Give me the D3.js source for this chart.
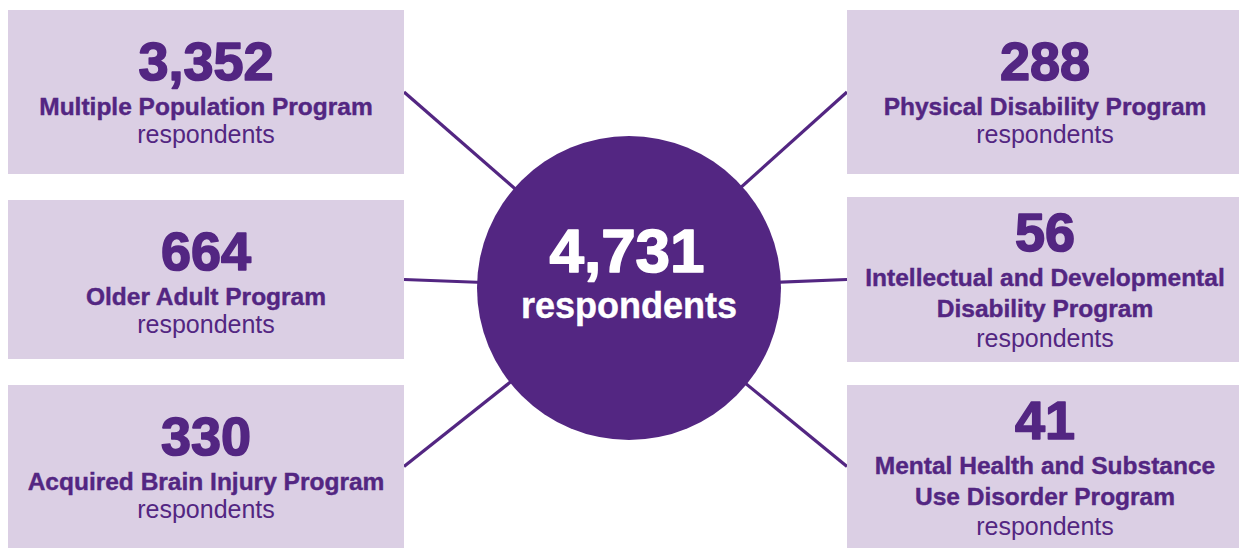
<!DOCTYPE html>
<html>
<head>
<meta charset="utf-8">
<script src="https://cdn.jsdelivr.net/npm/d3@7"></script>
<style>
  html, body { margin: 0; padding: 0; background: #ffffff; }
  svg { display: block; }
  text { font-family: "Liberation Sans", Arial, Helvetica, sans-serif; }
</style>
</head>
<body>
<svg id="chart" width="1239" height="548"></svg>
<script>
// ---- data ----
const programs = [
  "Multiple Population Program",
  "Older Adult Program",
  "Acquired Brain Injury Program",
  "Physical Disability Program",
  "Intellectual and Developmental Disability Program",
  "Mental Health and Substance Use Disorder Program"
];
const programLines = [
  ["Multiple Population Program"],
  ["Older Adult Program"],
  ["Acquired Brain Injury Program"],
  ["Physical Disability Program"],
  ["Intellectual and Developmental", "Disability Program"],
  ["Mental Health and Substance", "Use Disorder Program"]
];
const counts = [3352, 664, 330, 288, 56, 41];
const totalRespondents = 4731;
const unitLabel = "respondents";

// ---- layout ----
const purple = "#532682";
const boxFill = "#dbcfe4";
const fmt = d3.format(",");

const cx = 629, cy = 288, r = 152;

// box geometry: [x0, x1, y0, y1]
const boxes = [
  [8, 404, 10, 174],
  [8, 404, 200, 359],
  [8, 404, 385, 548],
  [847, 1239, 10, 174],
  [847, 1239, 197, 362],
  [847, 1239, 385, 548]
];
const sides = ["left", "left", "left", "right", "right", "right"];

const svg = d3.select("#chart");

const items = programs.map((p, i) => ({
  name: p, lines: programLines[i], count: counts[i],
  x0: boxes[i][0], x1: boxes[i][1], y0: boxes[i][2], y1: boxes[i][3], side: sides[i]
}));

// connector lines (from box inner edge toward circle center)
svg.append("g").selectAll("line").data(items).join("line")
  .attr("x1", d => d.side === "left" ? d.x1 : d.x0)
  .attr("y1", d => (d.y0 + d.y1) / 2)
  .attr("x2", cx).attr("y2", cy)
  .attr("stroke", purple).attr("stroke-width", 3.2);

// boxes
const g = svg.append("g").selectAll("g").data(items).join("g");
g.append("rect")
  .attr("x", d => d.x0).attr("y", d => d.y0)
  .attr("width", d => d.x1 - d.x0).attr("height", d => d.y1 - d.y0)
  .attr("fill", boxFill);

g.each(function(d) {
  const sel = d3.select(this);
  const mx = (d.x0 + d.x1) / 2 + (d.side === "right" ? 2 : 0);
  const two = d.lines.length > 1;
  const top = d.y0 + (two ? 54 : 70);
  sel.append("text")
    .attr("x", mx).attr("y", top)
    .attr("text-anchor", "middle")
    .attr("fill", purple)
    .attr("stroke", purple).attr("stroke-width", 1.6).attr("stroke-linejoin", "round")
    .attr("font-weight", "bold")
    .attr("font-size", 54)
    .text(fmt(d.count));
  d.lines.forEach((ln, k) => {
    sel.append("text")
      .attr("x", mx).attr("y", top + 35 + k * 31)
      .attr("text-anchor", "middle")
      .attr("fill", purple)
      .attr("stroke", purple).attr("stroke-width", 0.4)
      .attr("font-weight", "bold")
      .attr("font-size", 24.5)
      .text(ln);
  });
  sel.append("text")
    .attr("x", mx).attr("y", top + 35 + (d.lines.length - 1) * 31 + (two ? 30 : 28))
    .attr("text-anchor", "middle")
    .attr("fill", purple)
    .attr("font-size", 25)
    .text(unitLabel);
});

// central circle
svg.append("circle")
  .attr("cx", cx).attr("cy", cy).attr("r", r)
  .attr("fill", purple);
svg.append("text")
  .attr("x", cx - 2).attr("y", 272)
  .attr("text-anchor", "middle")
  .attr("fill", "#ffffff")
  .attr("stroke", "#ffffff").attr("stroke-width", 1.6).attr("stroke-linejoin", "round")
  .attr("font-weight", "bold")
  .attr("font-size", 62)
  .text(fmt(totalRespondents));
svg.append("text")
  .attr("x", cx).attr("y", 318)
  .attr("text-anchor", "middle")
  .attr("fill", "#ffffff")
  .attr("stroke", "#ffffff").attr("stroke-width", 0.4)
  .attr("font-weight", "bold")
  .attr("font-size", 36)
  .text(unitLabel);
</script>
</body>
</html>
